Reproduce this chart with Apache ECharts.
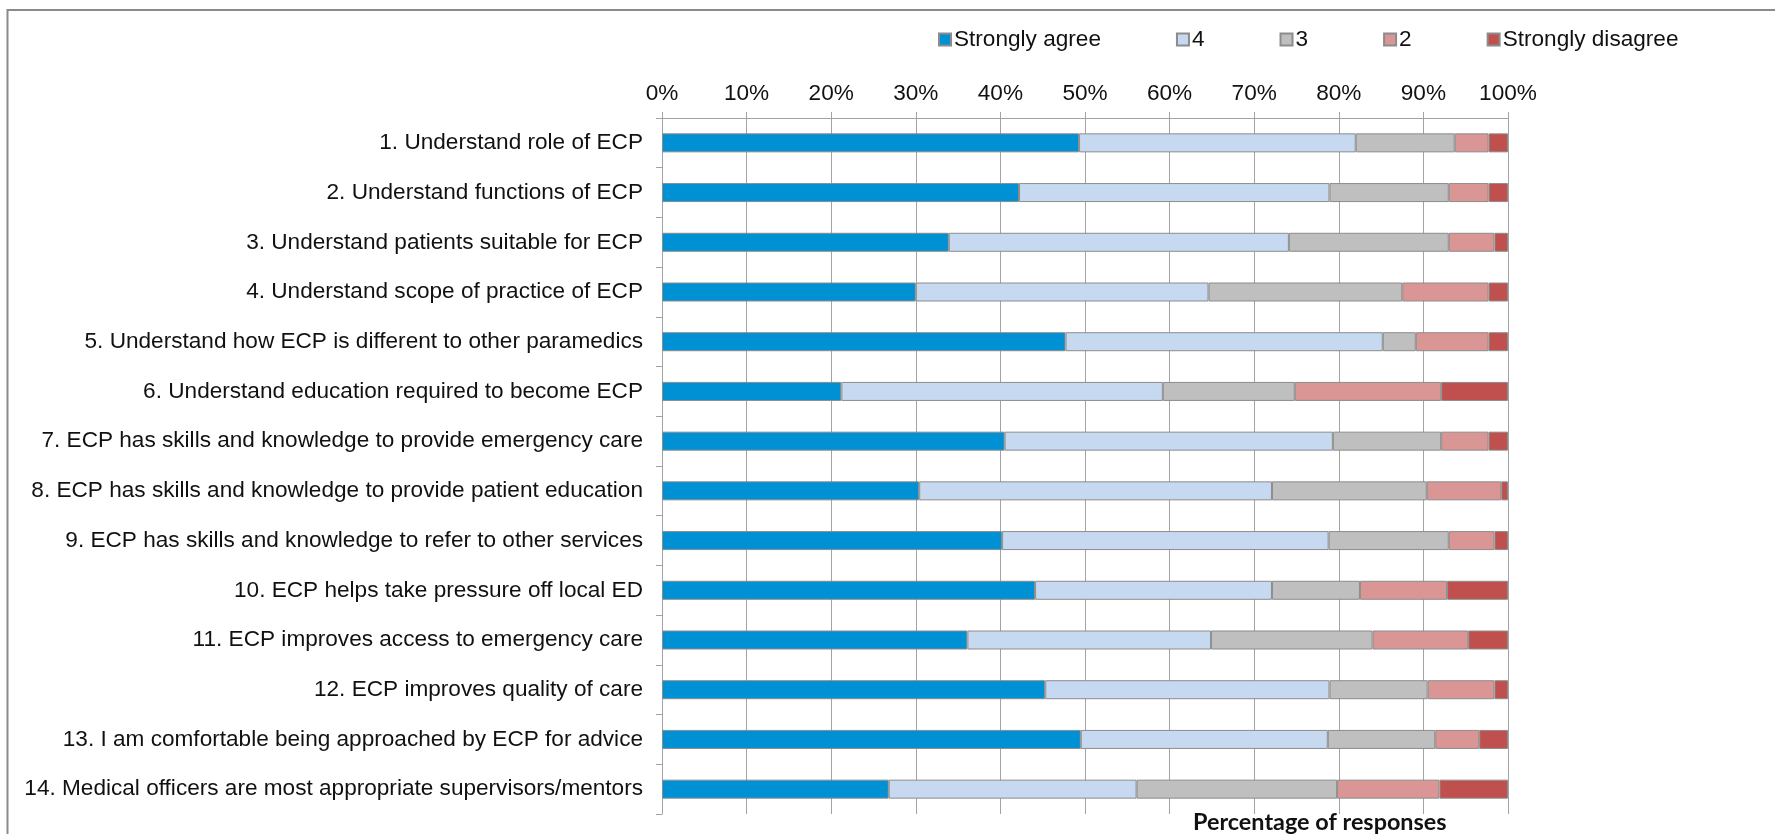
<!DOCTYPE html>
<html>
<head>
<meta charset="utf-8">
<title>Perceptions of the ECP role</title>
<script src="https://cdn.jsdelivr.net/npm/echarts@6/dist/echarts.min.js"></script>
<style>
  html, body { margin: 0; padding: 0; background: #ffffff; }
  #chart { width: 1775px; height: 834px; }
</style>
</head>
<body>
<div id="chart"></div>
<script>
// Survey statements (top to bottom)
const statements = [
  '1. Understand role of ECP',
  '2. Understand functions of ECP',
  '3. Understand patients suitable for ECP',
  '4. Understand scope of practice of ECP',
  '5. Understand how ECP is different to other paramedics',
  '6. Understand education required to become ECP',
  '7. ECP has skills and knowledge to provide emergency care',
  '8. ECP has skills and knowledge to provide patient education',
  '9. ECP has skills and knowledge to refer to other services',
  '10. ECP helps take pressure off local ED',
  '11. ECP improves access to emergency care',
  '12. ECP improves quality of care',
  '13. I am comfortable being approached by ECP for advice',
  '14. Medical officers are most appropriate supervisors/mentors'
];

// Share of responses per Likert level (%), one value per statement
const stronglyAgree    = [49.3, 42.2, 33.9, 30.0, 47.7, 21.2, 40.5, 30.4, 40.2, 44.1, 36.1, 45.3, 49.5, 26.8];
const level4           = [32.7, 36.7, 40.2, 34.6, 37.5, 38.0, 38.8, 41.7, 38.6, 28.0, 28.8, 33.6, 29.2, 29.3];
const level3           = [11.7, 14.1, 18.9, 22.9,  3.9, 15.6, 12.8, 18.3, 14.2, 10.4, 19.1, 11.6, 12.7, 23.7];
const level2           = [ 4.0,  4.7,  5.4, 10.2,  8.6, 17.3,  5.6,  8.8,  5.4, 10.3, 11.3,  7.9,  5.2, 12.1];
const stronglyDisagree = [ 2.3,  2.3,  1.6,  2.3,  2.3,  7.9,  2.3,  0.8,  1.6,  7.2,  4.7,  1.6,  3.4,  8.1];

const levelNames = ['Strongly agree', '4', '3', '2', 'Strongly disagree'];
const levelData = [stronglyAgree, level4, level3, level2, stronglyDisagree];
const levelColors = ['#0090d4', '#c6d9f1', '#bfbfbf', '#d99694', '#c0504d'];

const FONT = '"Liberation Sans", Arial, sans-serif';
const GRID_GRAY = '#a3a3a3';
const TEXT_SIZE = 22.6;

const chart = echarts.init(document.getElementById('chart'), null, { renderer: 'canvas' });

const series = levelNames.map((name, i) => ({
  name: name,
  type: 'bar',
  stack: 'total',
  barWidth: 19,
  data: levelData[i],
  itemStyle: {
    color: levelColors[i],
    borderColor: '#8c8c8c',
    borderWidth: 1
  },
  emphasis: { disabled: true }
}));

chart.setOption({
  animation: false,
  backgroundColor: '#ffffff',
  textStyle: { fontFamily: FONT },
  legend: {
    left: 933,
    top: 23,
    itemWidth: 12,
    itemHeight: 12,
    itemGap: 75,
    icon: 'rect',
    selectedMode: false,
    textStyle: { fontFamily: FONT, fontSize: TEXT_SIZE, color: '#111111', padding: [0, 0, 0, -2] },
    data: levelNames
  },
  grid: {
    left: 662,
    right: 267,
    top: 118,
    bottom: 20,
    containLabel: false
  },
  xAxis: {
    type: 'value',
    position: 'top',
    min: 0,
    max: 100,
    interval: 10,
    axisLine: { show: true, lineStyle: { color: GRID_GRAY, width: 1 } },
    axisTick: { show: true, inside: false, length: 6, lineStyle: { color: GRID_GRAY, width: 1 } },
    axisLabel: {
      formatter: '{value}%',
      fontFamily: FONT,
      fontSize: TEXT_SIZE,
      color: '#111111',
      margin: 13
    },
    splitLine: { show: true, lineStyle: { color: GRID_GRAY, width: 1 } }
  },
  yAxis: {
    type: 'category',
    inverse: true,
    data: statements,
    axisLine: { show: true, lineStyle: { color: GRID_GRAY, width: 1 } },
    axisTick: { show: true, inside: false, length: 6, interval: 0, lineStyle: { color: GRID_GRAY, width: 1 } },
    axisLabel: {
      fontFamily: FONT,
      fontSize: TEXT_SIZE,
      color: '#111111',
      margin: 19,
      interval: 0
    },
    splitLine: { show: false }
  },
  series: series,
  graphic: [
    {
      // outer frame: top and left edges
      type: 'polyline',
      shape: { points: [[7.5, 834], [7.5, 10], [1775, 10]] },
      style: { stroke: '#8a8a8a', lineWidth: 2, fill: null },
      silent: true
    },
    {
      type: 'text',
      left: 1193,
      top: 811,
      style: {
        text: 'Percentage of responses',
        font: 'bold 23.4px Lato, "Open Sans", sans-serif',
        fill: '#111111'
      },
      silent: true
    }
  ]
});
</script>
</body>
</html>
